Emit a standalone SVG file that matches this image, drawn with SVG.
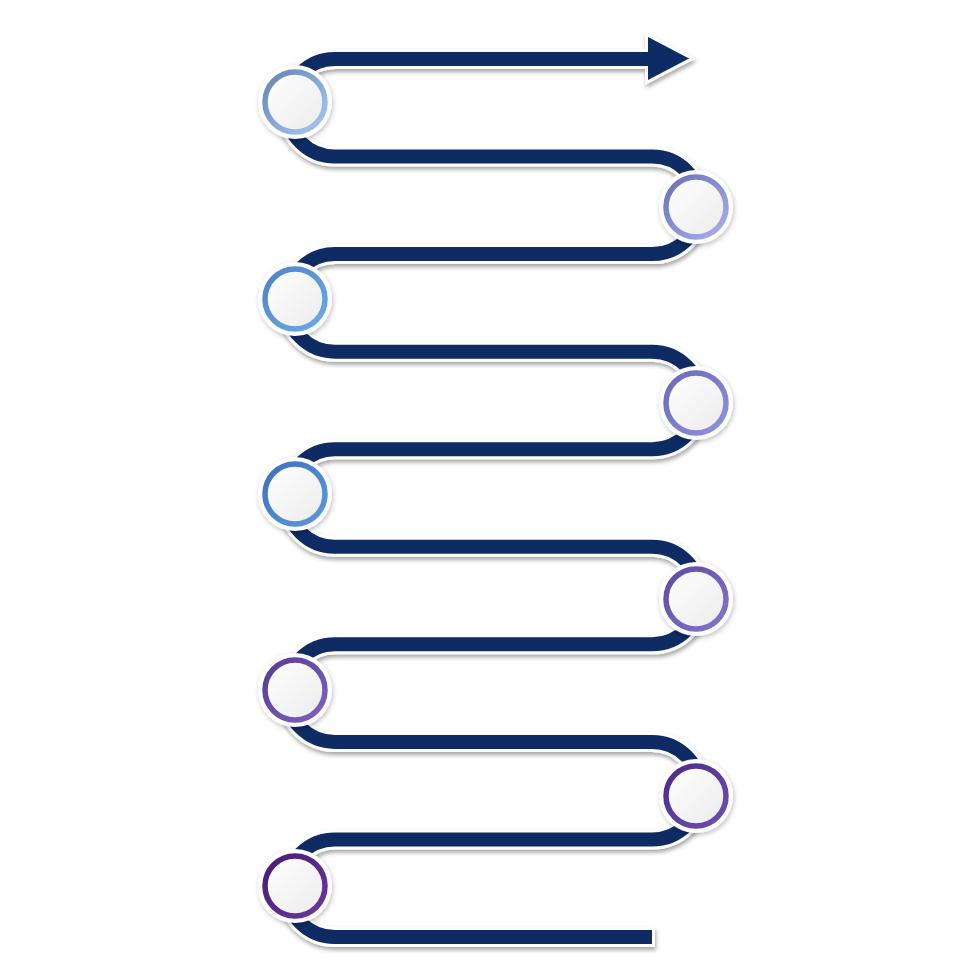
<svg xmlns="http://www.w3.org/2000/svg" width="980" height="980" viewBox="0 0 980 980">
  <defs>
    <filter id="shadow" x="-20%" y="-20%" width="140%" height="140%">
      <feDropShadow dx="1" dy="3" stdDeviation="2" flood-color="#000" flood-opacity="0.35"/>
    </filter>
    <filter id="cshadow" x="-30%" y="-30%" width="160%" height="160%">
      <feDropShadow dx="1" dy="2" stdDeviation="2.5" flood-color="#000" flood-opacity="0.25"/>
    </filter>
    <linearGradient id="inner" x1="0" y1="0" x2="1" y2="1">
      <stop offset="0" stop-color="#ffffff"/>
      <stop offset="1" stop-color="#ebebeb"/>
    </linearGradient>
    <linearGradient id="g1" x1="0" y1="0" x2="1" y2="1"><stop offset="0" stop-color="#6585b2"/><stop offset="1" stop-color="#a6c9f2"/></linearGradient>
    <linearGradient id="g2" x1="0" y1="0" x2="1" y2="1"><stop offset="0" stop-color="#6a70b4"/><stop offset="1" stop-color="#a8b0f0"/></linearGradient>
    <linearGradient id="g3" x1="0" y1="0" x2="1" y2="1"><stop offset="0" stop-color="#4c84c6"/><stop offset="1" stop-color="#6eaae6"/></linearGradient>
    <linearGradient id="g4" x1="0" y1="0" x2="1" y2="1"><stop offset="0" stop-color="#6a68b8"/><stop offset="1" stop-color="#9092e0"/></linearGradient>
    <linearGradient id="g5" x1="0" y1="0" x2="1" y2="1"><stop offset="0" stop-color="#3c72ba"/><stop offset="1" stop-color="#5e98dc"/></linearGradient>
    <linearGradient id="g6" x1="0" y1="0" x2="1" y2="1"><stop offset="0" stop-color="#5e4aa2"/><stop offset="1" stop-color="#8674cc"/></linearGradient>
    <linearGradient id="g7" x1="0" y1="0" x2="1" y2="1"><stop offset="0" stop-color="#563a94"/><stop offset="1" stop-color="#7e62be"/></linearGradient>
    <linearGradient id="g8" x1="0" y1="0" x2="1" y2="1"><stop offset="0" stop-color="#4a2c86"/><stop offset="1" stop-color="#704eb2"/></linearGradient>
    <linearGradient id="g9" x1="0" y1="0" x2="1" y2="1"><stop offset="0" stop-color="#461c74"/><stop offset="1" stop-color="#6c389c"/></linearGradient>
  </defs>
  <style>
    .outline { fill: none; stroke: #ffffff; stroke-width: 20; stroke-linejoin: round; }
    .band { fill: none; stroke: #0e2b63; stroke-width: 14; }
    .headout { fill: #ffffff; stroke: #ffffff; stroke-width: 6; stroke-linejoin: miter; }
    .head { fill: #0e2b63; }
    .disk { fill: #ffffff; filter: url(#cshadow); }
    .ring { stroke-width: 5.5; fill: url(#inner); }
  </style>

  <g id="connectors">
    <g filter="url(#shadow)">
      <path class="outline" d="M 652 59 H 335 A 48.78 48.78 0 0 0 335 156.56 H 652 A 48.78 48.78 0 0 1 652 254.12 H 335 A 48.78 48.78 0 0 0 335 351.68 H 652 A 48.78 48.78 0 0 1 652 449.24 H 335 A 48.78 48.78 0 0 0 335 546.8 H 652 A 48.78 48.78 0 0 1 652 644.36 H 335 A 48.78 48.78 0 0 0 335 741.92 H 652 A 48.78 48.78 0 0 1 652 839.48 H 335 A 48.78 48.78 0 0 0 335 937.04 H 655"/>
      <polygon class="headout" points="648,37 689,58.5 648,80"/>
    </g>
    <path class="band" d="M 652 59 H 335 A 48.78 48.78 0 0 0 335 156.56 H 652 A 48.78 48.78 0 0 1 652 254.12 H 335 A 48.78 48.78 0 0 0 335 351.68 H 652 A 48.78 48.78 0 0 1 652 449.24 H 335 A 48.78 48.78 0 0 0 335 546.8 H 652 A 48.78 48.78 0 0 1 652 644.36 H 335 A 48.78 48.78 0 0 0 335 741.92 H 652 A 48.78 48.78 0 0 1 652 839.48 H 335 A 48.78 48.78 0 0 0 335 937.04 H 652"/>
    <polygon class="head" points="648,37 689,58.5 648,80"/>
  </g>

  <g id="node1"><circle class="disk" cx="295" cy="102" r="37"/><circle class="ring" cx="295" cy="102" r="30" stroke="url(#g1)"/></g>
  <g id="node2"><circle class="disk" cx="696" cy="207" r="37"/><circle class="ring" cx="696" cy="207" r="30" stroke="url(#g2)"/></g>
  <g id="node3"><circle class="disk" cx="295" cy="299" r="37"/><circle class="ring" cx="295" cy="299" r="30" stroke="url(#g3)"/></g>
  <g id="node4"><circle class="disk" cx="696" cy="403" r="37"/><circle class="ring" cx="696" cy="403" r="30" stroke="url(#g4)"/></g>
  <g id="node5"><circle class="disk" cx="295" cy="494" r="37"/><circle class="ring" cx="295" cy="494" r="30" stroke="url(#g5)"/></g>
  <g id="node6"><circle class="disk" cx="696" cy="599" r="37"/><circle class="ring" cx="696" cy="599" r="30" stroke="url(#g6)"/></g>
  <g id="node7"><circle class="disk" cx="295" cy="690" r="37"/><circle class="ring" cx="295" cy="690" r="30" stroke="url(#g7)"/></g>
  <g id="node8"><circle class="disk" cx="696" cy="796" r="37"/><circle class="ring" cx="696" cy="796" r="30" stroke="url(#g8)"/></g>
  <g id="node9"><circle class="disk" cx="295" cy="886" r="37"/><circle class="ring" cx="295" cy="886" r="30" stroke="url(#g9)"/></g>
</svg>
